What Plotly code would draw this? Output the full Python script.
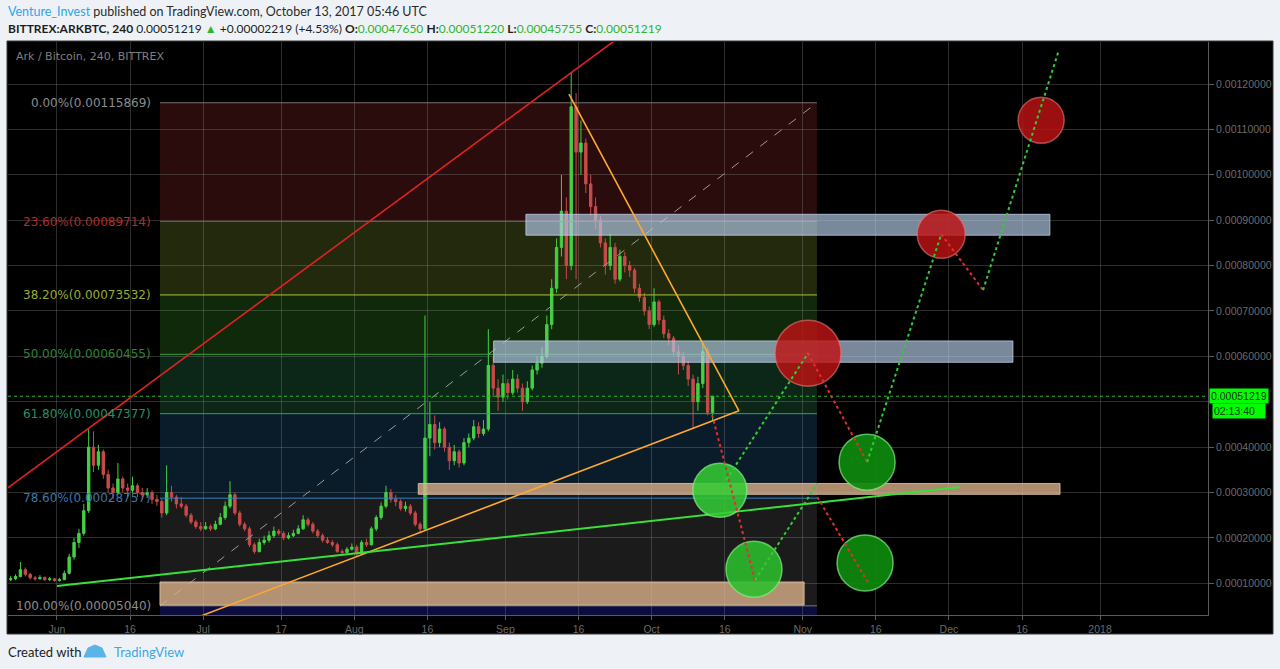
import plotly.graph_objects as go
import pandas as pd

# ---------------- data (prices in satoshi = 1e-8 BTC) ----------------
candle_dates = pd.date_range("2017-05-22 12:00", periods=145, freq="D")
open_sat = [10800, 11000, 11500, 13000, 12000, 11200, 11000, 11300, 10800, 11000,
            10600, 10800, 12200, 15800, 19000, 21000, 26000, 40000, 36000, 39000,
            34000, 31000, 30000, 33000, 31000, 30500, 31500, 30000, 29500, 30000,
            28500, 28000, 25500, 30000, 29000, 27500, 27000, 25000, 23500, 22500,
            22000, 22500, 22000, 23000, 24500, 27000, 29500, 25500, 23000, 22000,
            18500, 17000, 19000, 19500, 20500, 21500, 21000, 20000, 20500, 21000,
            22000, 24000, 23000, 21500, 20500, 19500, 19000, 18500, 17000, 16800,
            17500, 18000, 16500, 19000, 18500, 22000, 24500, 27000, 30000, 28500,
            28000, 26500, 27000, 25500, 23000, 22000, 42000, 45000, 41000, 44000,
            40000, 37000, 39000, 36500, 41000, 42000, 44500, 43000, 44000, 58000,
            53000, 51000, 54000, 52000, 55000, 53000, 50000, 53000, 57000, 58500,
            60000, 67000, 75000, 84000, 92000, 80000, 115000, 105000, 107000, 98000,
            93000, 90000, 85000, 80000, 84000, 77000, 82000, 80000, 79000, 75000,
            73000, 70000, 67000, 72000, 68000, 65000, 64000, 61000, 60000, 58000,
            55000, 50000, 54000, 61000, 47650]
high_sat = [11600, 12000, 14700, 13500, 12300, 11600, 11800, 11500, 11400, 11200,
            11200, 12800, 16500, 20000, 22000, 27500, 44000, 43500, 40500, 39500,
            35000, 32000, 36500, 33500, 32000, 33500, 32000, 31000, 31000, 30500,
            29500, 28500, 36000, 31500, 29500, 29000, 27500, 25500, 24000, 23500,
            23500, 23000, 23800, 25500, 28000, 32500, 30000, 26000, 23500, 22500,
            19000, 19800, 20500, 21500, 22500, 22000, 21500, 21200, 21800, 22800,
            25000, 24500, 23500, 22000, 21000, 20200, 19500, 19000, 17500, 18000,
            18800, 18500, 19500, 19800, 22500, 25000, 27800, 31500, 30800, 29500,
            28500, 28000, 27500, 26000, 23500, 69000, 50000, 47000, 45500, 44500,
            41000, 40500, 39500, 42000, 43000, 46000, 45500, 46000, 66000, 60000,
            55000, 56000, 55000, 57000, 56000, 54000, 54500, 58000, 60000, 62000,
            69000, 77000, 86000, 100000, 95000, 122600, 118000, 112000, 108000, 100000,
            95000, 91000, 86000, 87000, 85000, 83500, 83000, 81000, 79500, 76000,
            74000, 71000, 75000, 72500, 69000, 66000, 64500, 62500, 61000, 59000,
            56000, 55500, 63000, 62000, 51220]
low_sat = [10500, 10700, 11300, 11500, 10900, 10600, 10800, 10500, 10500, 10400,
           10400, 10700, 12000, 15200, 17800, 20500, 25500, 34500, 35000, 33000,
           30000, 28500, 29500, 30000, 29000, 30000, 29000, 28500, 28800, 27500,
           27000, 24500, 25000, 28000, 26500, 26500, 24500, 23000, 22000, 21500,
           21800, 21500, 21700, 22800, 24000, 26500, 25000, 22500, 21500, 18000,
           16500, 16800, 18500, 19000, 20000, 20500, 19500, 19700, 20200, 20800,
           21800, 22500, 21000, 20000, 19000, 18700, 18000, 16700, 16200, 16500,
           17200, 15800, 16300, 18000, 18300, 21500, 24000, 26500, 27800, 27000,
           26000, 25800, 25000, 22500, 21000, 21800, 38000, 39500, 40000, 39000,
           35000, 36000, 35500, 36000, 40000, 41500, 42000, 42500, 43500, 51000,
           48000, 50000, 50500, 51500, 52000, 48000, 49500, 52500, 56000, 57500,
           59500, 66000, 74000, 82000, 77000, 79000, 77000, 100000, 96000, 91000,
           88000, 84000, 78000, 79000, 76000, 76500, 78500, 77500, 74000, 72000,
           69000, 66000, 66500, 67000, 64000, 62500, 60000, 56000, 57000, 53500,
           44000, 48000, 53000, 47000, 45755]
close_sat = [11000, 11500, 13000, 12000, 11200, 11000, 11300, 10800, 11000, 10600,
             10800, 12200, 15800, 19000, 21000, 26000, 40000, 36000, 39000, 34000,
             31000, 30000, 33000, 31000, 30500, 31500, 30000, 29500, 30000, 28500,
             28000, 25500, 30000, 29000, 27500, 27000, 25000, 23500, 22500, 22000,
             22500, 22000, 23000, 24500, 27000, 29500, 25500, 23000, 22000, 18500,
             17000, 19000, 19500, 20500, 21500, 21000, 20000, 20500, 21000, 22000,
             24000, 23000, 21500, 20500, 19500, 19000, 18500, 17000, 16800, 17500,
             18000, 16500, 19000, 18500, 22000, 24500, 27000, 30000, 28500, 28000,
             26500, 27000, 25500, 23000, 22000, 42000, 45000, 41000, 44000, 40000,
             37000, 39000, 36500, 41000, 42000, 44500, 43000, 44000, 58000, 53000,
             51000, 54000, 52000, 55000, 53000, 50000, 53000, 57000, 58500, 60000,
             67000, 75000, 84000, 92000, 80000, 115000, 105000, 107000, 98000, 93000,
             90000, 85000, 80000, 84000, 77000, 82000, 80000, 79000, 75000, 73000,
             70000, 67000, 72000, 68000, 65000, 64000, 61000, 60000, 58000, 55000,
             50000, 54000, 61000, 47650, 51219]
SAT = 1e-8

last_price = 0.00051219

# Fibonacci retracement
fib_levels = [0.0, 0.236, 0.382, 0.5, 0.618, 0.786, 1.0]
fib_prices = [0.00115869, 0.00089714, 0.00073532, 0.00060455, 0.00047377, 0.00028757, 0.00005040]
fib_start = "2017-06-22 03:00"
fib_end = "2017-11-03 22:00"

# trend lines: (x0, x1), (y0, y1), colour, width
trend_lines = [
    (("2017-05-20 00:00", "2017-09-27 00:00"), (0.000295, 0.001324), "#e02222", 1.6),   # red channel
    (("2017-09-14 01:00", "2017-10-18 22:00"), (0.001178, 0.000480), "#ffa92e", 1.6),   # orange down
    (("2017-06-28 08:00", "2017-10-18 22:00"), (0.000019, 0.000480), "#ffa92e", 1.6),   # orange up
    (("2017-06-01 00:00", "2017-12-03 08:00"), (0.000094, 0.000312), "#3ae03a", 2.0),   # green support
]

# zones
blue_zones_x0 = ["2017-09-05 05:00", "2017-08-29 14:00"]
blue_zones_x1 = ["2017-12-21 17:00", "2017-12-14 03:00"]
blue_zones_lo = [0.000867, 0.000587]
blue_zones_hi = [0.000913, 0.000634]
tan_zones_x0 = ["2017-08-14 03:00", "2017-06-22 03:00"]
tan_zones_x1 = ["2017-12-23 19:00", "2017-11-01 07:00"]
tan_zones_lo = [0.000296, 0.000052]
tan_zones_hi = [0.000320, 0.000103]

# projected scenario paths
red_proj = [
    (["2017-10-13 10:00", "2017-10-22 05:00"], [0.000471, 0.000107]),
    (["2017-11-02 02:00", "2017-11-14 05:00"], [0.000607, 0.000367]),
    (["2017-11-04 00:00", "2017-11-14 12:00"], [0.000290, 0.000100]),
    (["2017-11-29 10:00", "2017-12-08 00:00"], [0.000869, 0.000746]),
]
green_proj = [
    (["2017-10-15 00:00", "2017-11-02 02:00"], [0.000306, 0.000607]),
    (["2017-10-22 05:00", "2017-11-04 00:00"], [0.000107, 0.000320]),
    (["2017-11-14 05:00", "2017-11-29 10:00"], [0.000367, 0.000869]),
    (["2017-12-08 00:00", "2017-12-23 10:00"], [0.000746, 0.001270]),
]

# scenario circles (centre date, centre price, radius px)
red_circle_x = ["2017-11-02 02:00", "2017-11-29 10:00", "2017-12-19 22:00"]
red_circle_y = [0.000607, 0.000869, 0.001120]
red_circle_r = [33, 24, 23]
green_circle_x = ["2017-10-15 00:00", "2017-10-22 00:00", "2017-11-14 05:00", "2017-11-13 19:00"]
green_circle_y = [0.000305, 0.000131, 0.000367, 0.000145]
green_circle_r = [27, 28, 28, 28]
green_circle_color = ["rgba(52,205,52,0.86)", "rgba(44,190,44,0.88)", "rgba(14,138,14,0.92)", "rgba(14,138,14,0.92)"]

# axes
x_tick_vals = ["2017-06-01", "2017-06-16", "2017-07-01", "2017-07-17", "2017-08-01", "2017-08-16",
               "2017-09-01", "2017-09-16", "2017-10-01", "2017-10-16", "2017-11-01", "2017-11-16",
               "2017-12-01", "2017-12-16", "2018-01-01"]
x_tick_text = ["Jun", "16", "Jul", "17", "Aug", "16", "Sep", "16", "Oct", "16", "Nov", "16", "Dec", "16", "2018"]
y_tick_vals = [0.0001, 0.0002, 0.0003, 0.0004, 0.0005, 0.0006, 0.0007, 0.0008, 0.0009, 0.0010, 0.0011, 0.0012]
y_tick_text = ["0.00010000", "0.00020000", "0.00030000", "0.00040000", "", "0.00060000",
               "0.00070000", "0.00080000", "0.00090000", "0.00100000", "0.00110000", "0.00120000"]
x_range = ["2017-05-21 22:48", "2018-01-23 03:36"]
y_range = [0.0000302, 0.0012926]

# ---------------- layout geometry (pixels) ----------------
W, H = 1280, 669
PL, PR, PT, PB = 8, 1208, 42, 615
PAGE_BG = "#eef2f6"


def px(x):
    return (x - PL) / (PR - PL)


def py(y):
    return (PB - y) / (PB - PT)


fig = go.Figure()

fib_fill = ["#2a0c0c", "#23290d", "#10290b", "#0c2717", "#0a1c29", "#1b1b1b"]
fib_line = ["#7d7070", "#b03a3a", "#a8c43c", "#3f9e3f", "#2ea36b", "#3d80ba", "#7c7c7c"]
fib_text = ["#8c8c8c", "#b52b2b", "#97ad27", "#2d852d", "#279063", "#3b78ad", "#8c8c8c"]

shapes = []
shapes.append(dict(type="rect", xref="paper", yref="paper", x0=px(7), x1=px(1273), y0=py(634), y1=py(41),
                   fillcolor="#000000", line=dict(color="#3a3a3a", width=1), layer="below"))
for i in range(6):
    shapes.append(dict(type="rect", xref="x", yref="y", x0=fib_start, x1=fib_end,
                       y0=fib_prices[i + 1], y1=fib_prices[i], fillcolor=fib_fill[i],
                       line=dict(width=0), layer="below"))
shapes.append(dict(type="rect", xref="x", yref="y", x0=fib_start, x1=fib_end,
                   y0=0.0, y1=fib_prices[6], fillcolor="#0c0c3e", line=dict(width=0), layer="below"))
for i in range(7):
    shapes.append(dict(type="line", xref="x", yref="y", x0=fib_start, x1=fib_end,
                       y0=fib_prices[i], y1=fib_prices[i], line=dict(color=fib_line[i], width=1)))
shapes.append(dict(type="line", xref="x", yref="y", x0=fib_start, x1=fib_end,
                   y0=fib_prices[6], y1=fib_prices[0], line=dict(color="#9a9a9a", width=1, dash="dash")))
shapes.append(dict(type="line", xref="paper", yref="y", x0=0, x1=1, y0=last_price, y1=last_price,
                   line=dict(color="#22bb22", width=1, dash="dot")))

# zones (above candles, semi-transparent)
for x0, x1, lo, hi in zip(blue_zones_x0, blue_zones_x1, blue_zones_lo, blue_zones_hi):
    shapes.append(dict(type="rect", xref="x", yref="y", x0=x0, x1=x1, y0=lo, y1=hi,
                       fillcolor="rgba(180,200,228,0.68)", line=dict(color="rgba(190,205,230,0.8)", width=1)))
for x0, x1, lo, hi in zip(tan_zones_x0, tan_zones_x1, tan_zones_lo, tan_zones_hi):
    shapes.append(dict(type="rect", xref="x", yref="y", x0=x0, x1=x1, y0=lo, y1=hi,
                       fillcolor="rgba(222,178,140,0.78)", line=dict(color="rgba(230,200,170,0.8)", width=1)))

# trend lines
for (x0, x1), (y0, y1), col, w in trend_lines:
    shapes.append(dict(type="line", xref="x", yref="y", x0=x0, x1=x1, y0=y0, y1=y1,
                       line=dict(color=col, width=w)))

# circles
for cx, cy, r in zip(red_circle_x, red_circle_y, red_circle_r):
    shapes.append(dict(type="circle", xref="x", yref="y", xsizemode="pixel", ysizemode="pixel",
                       xanchor=cx, yanchor=cy, x0=-r, x1=r, y0=-r, y1=r,
                       fillcolor="rgba(190,18,20,0.82)", line=dict(color="rgba(235,120,120,0.6)", width=1.5)))
for cx, cy, r, col in zip(green_circle_x, green_circle_y, green_circle_r, green_circle_color):
    shapes.append(dict(type="circle", xref="x", yref="y", xsizemode="pixel", ysizemode="pixel",
                       xanchor=cx, yanchor=cy, x0=-r, x1=r, y0=-r, y1=r,
                       fillcolor=col, line=dict(color="rgba(130,240,130,0.7)", width=1.5)))

# projected dotted paths
for xs, ys in red_proj:
    shapes.append(dict(type="line", xref="x", yref="y", x0=xs[0], x1=xs[1], y0=ys[0], y1=ys[1],
                       line=dict(color="#e03030", width=2, dash="dot")))
for xs, ys in green_proj:
    shapes.append(dict(type="line", xref="x", yref="y", x0=xs[0], x1=xs[1], y0=ys[0], y1=ys[1],
                       line=dict(color="#33cc33", width=2, dash="dot")))

# TradingView logo (small cloud)
shapes.append(dict(type="path", xref="paper", yref="paper",
                   path=("M %f,%f L %f,%f L %f,%f L %f,%f L %f,%f Z" % (
                       px(84), py(657), px(88), py(648), px(95), py(645), px(102), py(648), px(106), py(657))),
                   fillcolor="#5ab4e6", line=dict(color="#5ab4e6", width=1)))
fig.update_layout(shapes=shapes)

# candles
fig.add_trace(go.Candlestick(
    x=candle_dates,
    open=[v * SAT for v in open_sat], high=[v * SAT for v in high_sat],
    low=[v * SAT for v in low_sat], close=[v * SAT for v in close_sat],
    increasing=dict(line=dict(color="#44d044", width=1), fillcolor="#44d044"),
    decreasing=dict(line=dict(color="#c84a4a", width=1), fillcolor="#c84a4a"),
    whiskerwidth=0, showlegend=False, hoverinfo="skip"))

ann = []
for lvl, price, col in zip(fib_levels, fib_prices, fib_text):
    ann.append(dict(x=fib_start, y=price, xref="x", yref="y", xanchor="right", yanchor="middle",
                    xshift=-7, text=f"{lvl * 100:.2f}%({price:.8f})", showarrow=False,
                    font=dict(family="DejaVu Sans", size=12, color=col)))
ann.append(dict(x=px(14), y=py(57), xref="paper", yref="paper", xanchor="left", yanchor="middle",
                text="Ark / Bitcoin, 240, BITTREX", showarrow=False,
                font=dict(family="DejaVu Sans", size=11, color="#7f7f7f")))
ann.append(dict(x=px(6), y=py(11), xref="paper", yref="paper", xanchor="left", yanchor="middle",
                text="<span style='color:#2fa4e7'>Venture_Invest</span> published on TradingView.com, October 13, 2017 05:46 UTC",
                showarrow=False, font=dict(family="Lato", size=12.5, color="#2a2a2a")))
g = "#2db52d"
ann.append(dict(x=px(6), y=py(28), xref="paper", yref="paper", xanchor="left", yanchor="middle",
                text=("<b>BITTREX:ARKBTC, 240</b> 0.00051219 <span style='color:%s'>▲</span> +0.00002219 (+4.53%%) "
                      "<b>O:</b><span style='color:%s'>0.00047650</span> <b>H:</b><span style='color:%s'>0.00051220</span> "
                      "<b>L:</b><span style='color:%s'>0.00045755</span> <b>C:</b><span style='color:%s'>0.00051219</span>")
                % (g, g, g, g, g),
                showarrow=False, font=dict(family="Lato", size=12, color="#1e1e1e")))
ann.append(dict(x=px(6), y=py(652), xref="paper", yref="paper", xanchor="left", yanchor="middle",
                text="Created with", showarrow=False, font=dict(family="Lato", size=13, color="#222222")))
ann.append(dict(x=px(112), y=py(652), xref="paper", yref="paper", xanchor="left", yanchor="middle",
                text="TradingView", showarrow=False, font=dict(family="Lato", size=13, color="#3fa6e0")))
ann.append(dict(x=1.0, y=last_price, xref="paper", yref="y", xanchor="left", yanchor="middle", xshift=1,
                text="0.00051219", showarrow=False, bgcolor="#00ff00", borderpad=1,
                font=dict(family="Liberation Sans", size=10.5, color="#103010")))
ann.append(dict(x=1.0, y=last_price, xref="paper", yref="y", xanchor="left", yanchor="middle", xshift=4,
                yshift=-15, text="02:13:40   ", showarrow=False, bgcolor="#00ff00", borderpad=1,
                font=dict(family="Liberation Sans", size=10.5, color="#103010")))
fig.update_layout(annotations=ann)

fig.update_layout(
    width=W, height=H, autosize=False,
    margin=dict(l=PL, r=W - PR, t=PT, b=H - PB, pad=0),
    paper_bgcolor=PAGE_BG, plot_bgcolor="#000000",
    showlegend=False,
    xaxis=dict(type="date", range=x_range, tickvals=x_tick_vals, ticktext=x_tick_text,
               showgrid=True, gridcolor="rgba(150,150,150,0.30)", gridwidth=1,
               showline=True, linecolor="#5a5a5a", linewidth=1,
               ticks="outside", ticklen=4, tickcolor="#5a5a5a",
               tickfont=dict(family="Liberation Sans", size=10.5, color="#6a6a6a"),
               rangeslider=dict(visible=False), zeroline=False, fixedrange=True),
    yaxis=dict(range=y_range, side="right", tickvals=y_tick_vals, ticktext=y_tick_text,
               showgrid=True, gridcolor="rgba(150,150,150,0.30)", gridwidth=1,
               showline=True, linecolor="#5a5a5a", linewidth=1,
               ticks="outside", ticklen=5, tickcolor="#5a5a5a",
               tickfont=dict(family="Liberation Sans", size=10.5, color="#6a6a6a"),
               zeroline=False, fixedrange=True),
)

fig.write_html("out.html", config={"displayModeBar": False},
               post_script="document.body.style.margin='0';document.body.style.overflow='hidden';"
                           "document.body.style.background='%s';" % PAGE_BG)
